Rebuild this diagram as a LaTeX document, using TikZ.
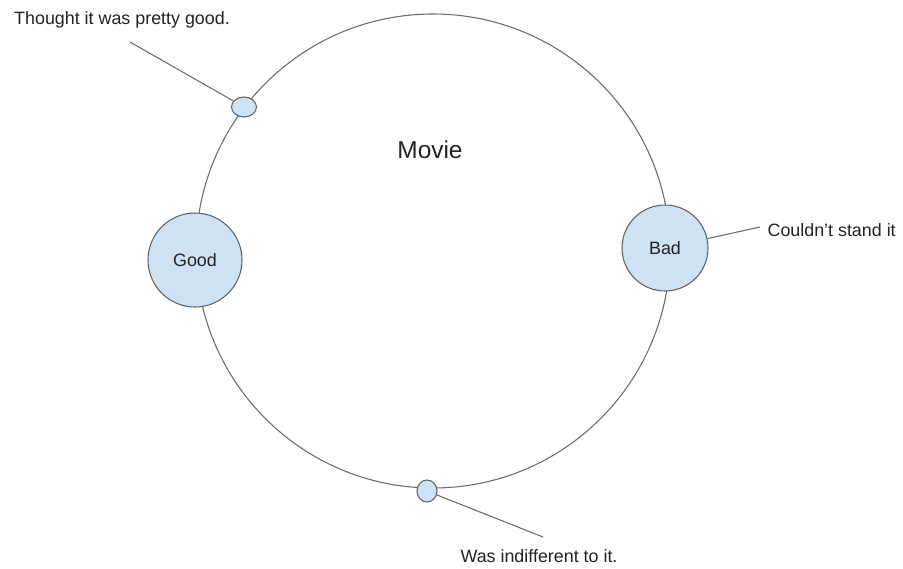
\documentclass[tikz,border=0pt]{standalone}
\usepackage{fontspec}
\setmainfont{Liberation Sans}
\usepackage{tikz}
\usetikzlibrary{shapes.geometric,positioning}

\definecolor{bubblefill}{HTML}{CFE2F3}
\definecolor{bubbledraw}{HTML}{5F6368}
\definecolor{ringdraw}{HTML}{6B6B6B}
\definecolor{labeltext}{HTML}{222222}

\begin{document}
\begin{tikzpicture}
    [
      x=0.75pt, y=-0.75pt,
      ring/.style={circle,draw=ringdraw,line width=0.8pt,minimum size=355.5pt,inner sep=0pt},
      bubble/.style={circle,draw=bubbledraw,fill=bubblefill,line width=0.8pt,inner sep=0pt,
        font=\fontsize{13.4}{16}\selectfont,text=labeltext},
      dot/.style={ellipse,draw=bubbledraw,fill=bubblefill,line width=0.8pt,inner sep=0pt},
      note/.style={font=\fontsize{13.4}{16}\selectfont,text=labeltext,inner sep=1pt},
      leader/.style={draw=ringdraw,line width=0.8pt},
    ]
    \useasboundingbox (0,0) rectangle (903,568);

    \node (movie) [ring] at (433,251) {};
    \node (movie-text) [font=\fontsize{18.3}{22}\selectfont,text=labeltext] at (430,150) {Movie};

    \node (good) [bubble,minimum size=70.5pt] at (195,260) {Good};
    \node (bad) [bubble,minimum size=64.5pt] at (665,248) {Bad};
    \node (pretty-good) [dot,minimum width=18.75pt,minimum height=15pt] at (244,107) {};
    \node (indifferent) [dot,minimum width=15pt,minimum height=16.5pt] at (427,491) {};

    \node (pretty-good-text) [note] at (122,20) {Thought it was pretty good.};
    \node (bad-text) [note,anchor=west] at (766,230) {Couldn’t stand it};
    \node (indifferent-text) [note] at (539,556) {Was indifferent to it.};

    \coordinate (pretty-good-end) at (130,42);
    \coordinate (bad-end) at (760,227);
    \coordinate (indifferent-end) at (543,537);

    \path
    (pretty-good-end) edge [leader] (pretty-good)
    (bad) edge [leader] (bad-end)
    (indifferent) edge [leader] (indifferent-end)
    ;

  \end{tikzpicture}
\end{document}
